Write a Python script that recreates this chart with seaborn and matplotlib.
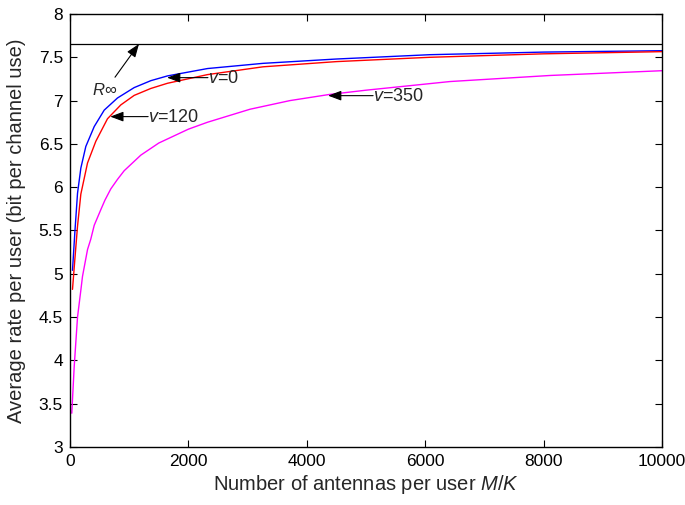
import matplotlib
matplotlib.use("Agg")
import matplotlib.pyplot as plt
import seaborn as sns
import pandas as pd

# ---- data ----
blue_x = [42, 81, 127, 183, 267, 409, 578, 802, 1084, 1365, 1647, 2323, 3260, 4500, 6080, 8000, 10000]
blue_y = [5.04, 5.47, 5.93, 6.22, 6.47, 6.70, 6.89, 7.03, 7.15, 7.23, 7.285, 7.37, 7.43, 7.48, 7.53, 7.56, 7.576]

red_x = [42, 81, 127, 183, 296, 436, 633, 858, 1084, 1365, 1647, 2323, 3260, 4500, 6080, 8000, 10000]
red_y = [4.82, 5.16, 5.55, 5.92, 6.28, 6.53, 6.79, 6.95, 7.06, 7.14, 7.20, 7.30, 7.39, 7.45, 7.50, 7.54, 7.565]

mag_x = [30, 71, 127, 183, 211, 296, 351, 409, 520, 590, 689, 802, 915, 1196, 1500, 2000, 2323,
         3040, 3716, 4375, 5000, 6420, 8110, 10000]
mag_y = [3.39, 3.93, 4.50, 4.81, 4.97, 5.28, 5.40, 5.56, 5.74, 5.85, 5.98, 6.09, 6.19, 6.37, 6.51, 6.67, 6.75,
         6.90, 7.00, 7.07, 7.12, 7.22, 7.29, 7.345]

r_inf = 7.654
series_names = ["v=0", "v=120", "v=350"]
series_colors = ["#0000ff", "#ff0000", "#ff00ff"]

x_ticks = [0, 2000, 4000, 6000, 8000, 10000]
y_ticks = [3, 3.5, 4, 4.5, 5, 5.5, 6, 6.5, 7, 7.5, 8]

df = pd.concat([
    pd.DataFrame({"x": blue_x, "y": blue_y, "s": series_names[0]}),
    pd.DataFrame({"x": red_x, "y": red_y, "s": series_names[1]}),
    pd.DataFrame({"x": mag_x, "y": mag_y, "s": series_names[2]}),
])

sns.set_style("ticks")
plt.rcParams["font.family"] = ["Liberation Sans", "DejaVu Sans"]
plt.rcParams["mathtext.fontset"] = "custom"
plt.rcParams["mathtext.it"] = "Liberation Sans:italic"
plt.rcParams["mathtext.rm"] = "Liberation Sans"
plt.rcParams["mathtext.sf"] = "Liberation Sans"

fig = plt.figure(figsize=(6.85, 5.05), dpi=100)
ax = fig.add_axes([0.1022, 0.1149, 0.8642, 0.8574])

sns.lineplot(data=df, x="x", y="y", hue="s", palette=dict(zip(series_names, series_colors)),
             ax=ax, legend=False, linewidth=1.0, sort=True, estimator=None)
ax.axhline(r_inf, color="black", linewidth=0.9)

ax.set_xlim(0, 10000)
ax.set_ylim(3, 8)
ax.set_xticks(x_ticks)
ax.set_xticklabels([str(t) for t in x_ticks])
ax.set_yticks(y_ticks)
ax.set_yticklabels([("%g" % t) for t in y_ticks])
ax.tick_params(direction="in", top=True, right=True, length=5, width=0.8,
               labelsize=12.5, colors="black", pad=5)
for sp in ax.spines.values():
    sp.set_visible(True)
    sp.set_color("black")
    sp.set_linewidth(1.0)

ax.set_xlabel("Number of antennas per user $M/K$", fontsize=14.5, labelpad=3)
ax.set_ylabel("Average rate per user (bit per channel use)", fontsize=14.5, labelpad=9)

arrow = dict(arrowstyle="-|>,head_length=0.8,head_width=0.3", color="black", lw=0.8,
             shrinkA=0, shrinkB=0)
ax.annotate("", xy=(1165, r_inf), xytext=(760, 7.27), arrowprops=arrow)
ax.text(370, 7.12, "$R$∞", fontsize=12, va="center", ha="left")
ax.annotate("", xy=(1640, 7.265), xytext=(2330, 7.265), arrowprops=arrow)
ax.text(2330, 7.25, "$v$=0", fontsize=13, va="center", ha="left")
ax.annotate("", xy=(680, 6.815), xytext=(1320, 6.815), arrowprops=arrow)
ax.text(1320, 6.80, "$v$=120", fontsize=13, va="center", ha="left")
ax.annotate("", xy=(4360, 7.057), xytext=(5120, 7.057), arrowprops=arrow)
ax.text(5120, 7.045, "$v$=350", fontsize=13, va="center", ha="left")

fig.savefig("out.png", dpi=100)
